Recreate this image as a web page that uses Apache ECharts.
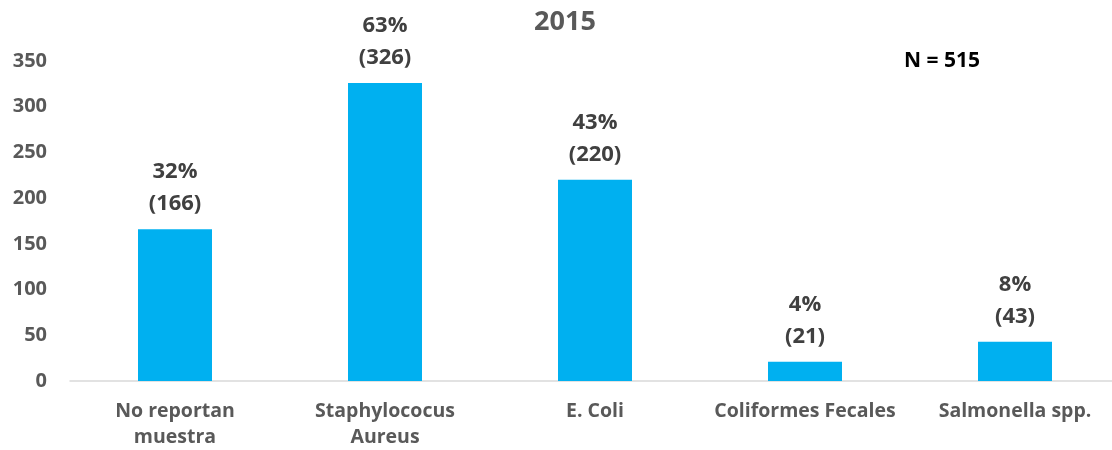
<!DOCTYPE html>
<html><head><meta charset="utf-8">
<script src="https://cdn.jsdelivr.net/npm/echarts@6/dist/echarts.min.js"></script>
<style>html,body{margin:0;padding:0;background:#fff}#c{width:1112px;height:450px}</style>
</head><body><div id="c"></div>
<script>
const categories = ['No reportan\nmuestra', 'Staphylococus\nAureus', 'E. Coli', 'Coliformes Fecales', 'Salmonella spp.'];
const counts = [166, 326, 220, 21, 43];
const percents = ['32%', '63%', '43%', '4%', '8%'];
const yTicks = {min: 0, max: 350, interval: 50};
const font = '"Open Sans", "Noto Sans", sans-serif';
const chart = echarts.init(document.getElementById('c'));
chart.setOption({
  animation: false,
  title: [
    {text: '2015', left: 560, top: 4, textAlign: 'center', textStyle: {fontFamily: font, fontSize: 27, fontWeight: 'bold', color: '#595959'}},
    {text: 'N = 515', left: 937, top: 46, textAlign: 'center', textStyle: {fontFamily: font, fontSize: 21, fontWeight: 'bold', color: '#000'}}
  ],
  grid: {left: 70, top: 61, height: 320, width: 1050, containLabel: false, outerBoundsMode: 'none'},
  xAxis: {
    type: 'category', data: categories,
    axisLine: {lineStyle: {color: '#d9d9d9', width: 1.5}},
    axisTick: {show: false},
    axisLabel: {fontFamily: font, fontSize: 19.5, fontWeight: 'bold', color: '#595959', lineHeight: 26, margin: 17, interval: 0}
  },
  yAxis: {
    type: 'value', min: yTicks.min, max: yTicks.max, interval: yTicks.interval,
    splitLine: {show: false}, axisLine: {show: false}, axisTick: {show: false},
    axisLabel: {fontFamily: font, fontSize: 20, fontWeight: 'bold', color: '#595959', margin: 23}
  },
  series: [{
    type: 'bar', data: counts, barWidth: 74,
    itemStyle: {color: '#00B0F0'},
    label: {
      show: true, position: 'top', distance: 9,
      formatter: p => percents[p.dataIndex] + '\n(' + p.value + ')',
      fontFamily: font, fontSize: 22, fontWeight: 'bold', color: '#404040', lineHeight: 32
    }
  }]
});
</script></body></html>
